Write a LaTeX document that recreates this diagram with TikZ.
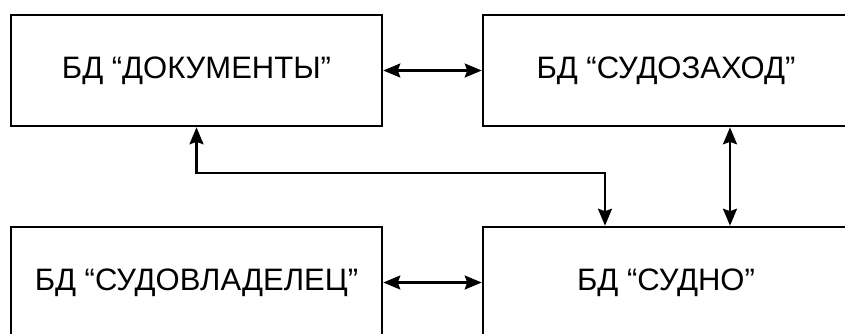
\documentclass[tikz,border=0pt]{standalone}
\usepackage{fontspec}
\setmainfont{Liberation Sans}
\usetikzlibrary{arrows.meta}
\begin{document}
\begin{tikzpicture}[x=1pt,y=-1pt,
  dbbox/.style={draw, line width=2.6pt, minimum height=111pt, inner sep=0pt,
    font=\fontsize{31}{34}\selectfont},
  tip/.style={Stealth[length=17pt,width=14pt,inset=2.5pt]},
  link/.style={line width=2.2pt, {Stealth[length=17pt,width=14pt,inset=2.5pt]}-{Stealth[length=17pt,width=14pt,inset=2.5pt]}}]
  \useasboundingbox (0,0) rectangle (845,333);
  \clip (0,0) rectangle (845,333);
  \fill[white] (0,0) rectangle (845,333);
  % the four databases
  \node[dbbox, minimum width=371pt] (docs)   at (196.5,70.5)  {БД “ДОКУМЕНТЫ”};
  \node[dbbox, minimum width=366pt] (calls)  at (666,70.5)    {БД “СУДОЗАХОД”};
  \node[dbbox, minimum width=371pt] (owner)  at (196.5,282.5) {БД “СУДОВЛАДЕЛЕЦ”};
  \node[dbbox, minimum width=366pt] (vessel) at (666,282.5)   {БД “СУДНО”};
  % routing points
  \coordinate (bend) at (0,173);
  \coordinate (xa) at (605,0);
  \coordinate (xb) at (730,0);
  % links
  \draw[link] (docs) -- (calls);
  \draw[link] (owner) -- (vessel);
  \draw[link] (calls.south -| xb) -- (vessel.north -| xb);
  \draw[link] (docs.south) -- (docs.south |- bend) -| (vessel.north -| xa);
\end{tikzpicture}
\end{document}
